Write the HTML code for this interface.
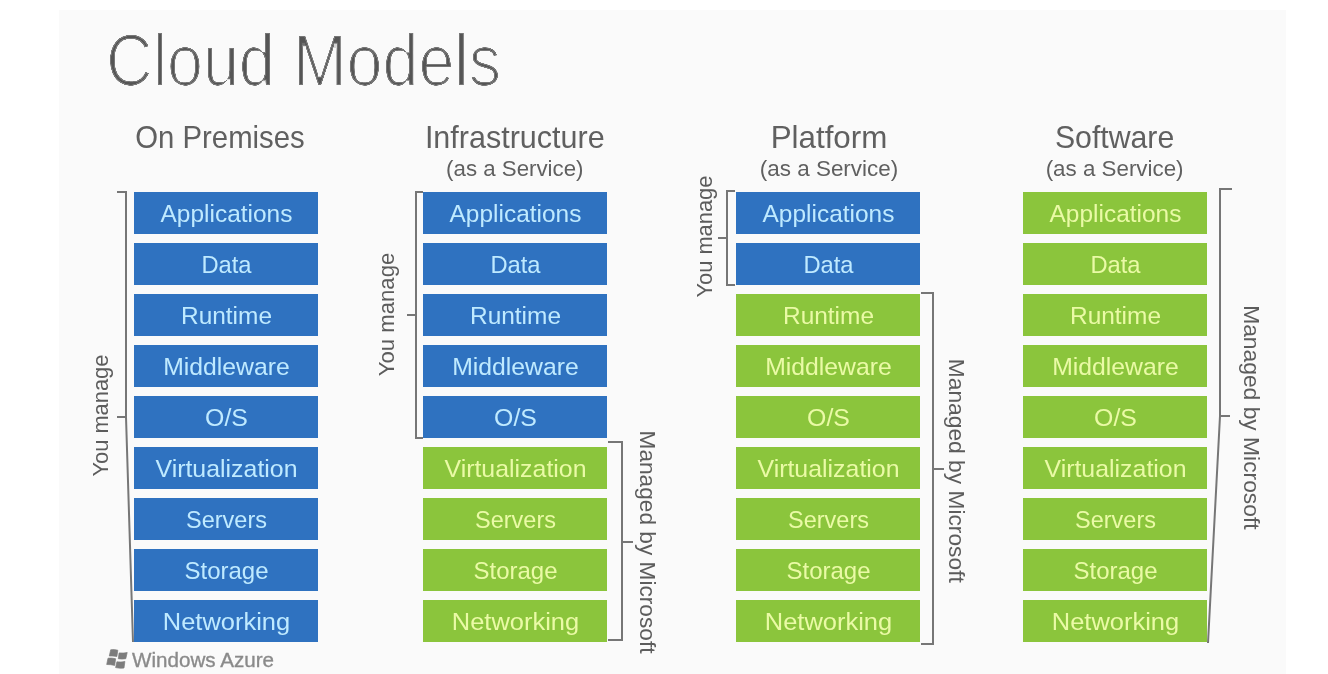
<!DOCTYPE html>
<html><head><meta charset="utf-8"><style>
html,body{margin:0;padding:0;background:#fff;width:1328px;height:674px;overflow:hidden}
svg{display:block;filter:blur(0.35px)}
text{font-family:"Liberation Sans",sans-serif}
</style></head><body>
<svg width="1328" height="674" viewBox="0 0 1328 674">
<defs><filter id="thin" x="-5%" y="-20%" width="110%" height="140%"><feComponentTransfer in="SourceAlpha" result="a"><feFuncA type="linear" slope="3" intercept="0"/></feComponentTransfer><feMorphology in="a" operator="erode" radius="1" result="e1"/><feMorphology in="a" operator="erode" radius="2" result="e2"/><feComposite in="e1" in2="e2" operator="arithmetic" k1="0" k2="0.8" k3="0.2" k4="0" result="e"/><feFlood flood-color="#555555"/><feComposite in2="e" operator="in"/></filter></defs>
<rect x="59" y="10" width="1227" height="664" fill="#fafafa"/>

<text x="106" y="85.5" font-size="75" fill="#555" textLength="395" lengthAdjust="spacingAndGlyphs" filter="url(#thin)">Cloud Models</text>
<text x="220" y="147.6" font-size="31.5" fill="#606060" text-anchor="middle" textLength="169.4" lengthAdjust="spacingAndGlyphs">On Premises</text>
<text x="514.8" y="147.6" font-size="31.5" fill="#606060" text-anchor="middle" textLength="179.8" lengthAdjust="spacingAndGlyphs">Infrastructure</text>
<text x="514.8" y="176.2" font-size="21.5" fill="#606060" text-anchor="middle" textLength="137.4" lengthAdjust="spacingAndGlyphs">(as a Service)</text>
<text x="829" y="147.6" font-size="31.5" fill="#606060" text-anchor="middle" textLength="116.7" lengthAdjust="spacingAndGlyphs">Platform</text>
<text x="829" y="176.2" font-size="21.5" fill="#606060" text-anchor="middle" textLength="138.5" lengthAdjust="spacingAndGlyphs">(as a Service)</text>
<text x="1114.6" y="147.6" font-size="31.5" fill="#606060" text-anchor="middle" textLength="119.3" lengthAdjust="spacingAndGlyphs">Software</text>
<text x="1114.6" y="176.2" font-size="21.5" fill="#606060" text-anchor="middle" textLength="137.9" lengthAdjust="spacingAndGlyphs">(as a Service)</text>
<rect x="134" y="192" width="184" height="42" fill="#2f72c0"/>
<text x="226.5" y="221.8" font-size="24.6" fill="#bfeaff" text-anchor="middle" textLength="131.9" lengthAdjust="spacingAndGlyphs">Applications</text>
<rect x="134" y="243" width="184" height="42" fill="#2f72c0"/>
<text x="226.5" y="272.8" font-size="24.6" fill="#bfeaff" text-anchor="middle" textLength="50.2" lengthAdjust="spacingAndGlyphs">Data</text>
<rect x="134" y="294" width="184" height="42" fill="#2f72c0"/>
<text x="226.5" y="323.8" font-size="24.6" fill="#bfeaff" text-anchor="middle" textLength="91" lengthAdjust="spacingAndGlyphs">Runtime</text>
<rect x="134" y="345" width="184" height="42" fill="#2f72c0"/>
<text x="226.5" y="374.8" font-size="24.6" fill="#bfeaff" text-anchor="middle" textLength="126.6" lengthAdjust="spacingAndGlyphs">Middleware</text>
<rect x="134" y="396" width="184" height="42" fill="#2f72c0"/>
<text x="226.5" y="425.8" font-size="24.6" fill="#bfeaff" text-anchor="middle" textLength="42.8" lengthAdjust="spacingAndGlyphs">O/S</text>
<rect x="134" y="447" width="184" height="42" fill="#2f72c0"/>
<text x="226.5" y="476.8" font-size="24.6" fill="#bfeaff" text-anchor="middle" textLength="142" lengthAdjust="spacingAndGlyphs">Virtualization</text>
<rect x="134" y="498" width="184" height="42" fill="#2f72c0"/>
<text x="226.5" y="527.8" font-size="24.6" fill="#bfeaff" text-anchor="middle" textLength="80.9" lengthAdjust="spacingAndGlyphs">Servers</text>
<rect x="134" y="549" width="184" height="42" fill="#2f72c0"/>
<text x="226.5" y="578.8" font-size="24.6" fill="#bfeaff" text-anchor="middle" textLength="84" lengthAdjust="spacingAndGlyphs">Storage</text>
<rect x="134" y="600" width="184" height="42" fill="#2f72c0"/>
<text x="226.5" y="629.8" font-size="24.6" fill="#bfeaff" text-anchor="middle" textLength="127.3" lengthAdjust="spacingAndGlyphs">Networking</text>
<rect x="423" y="192" width="184" height="42" fill="#2f72c0"/>
<text x="515.5" y="221.8" font-size="24.6" fill="#bfeaff" text-anchor="middle" textLength="131.9" lengthAdjust="spacingAndGlyphs">Applications</text>
<rect x="423" y="243" width="184" height="42" fill="#2f72c0"/>
<text x="515.5" y="272.8" font-size="24.6" fill="#bfeaff" text-anchor="middle" textLength="50.2" lengthAdjust="spacingAndGlyphs">Data</text>
<rect x="423" y="294" width="184" height="42" fill="#2f72c0"/>
<text x="515.5" y="323.8" font-size="24.6" fill="#bfeaff" text-anchor="middle" textLength="91" lengthAdjust="spacingAndGlyphs">Runtime</text>
<rect x="423" y="345" width="184" height="42" fill="#2f72c0"/>
<text x="515.5" y="374.8" font-size="24.6" fill="#bfeaff" text-anchor="middle" textLength="126.6" lengthAdjust="spacingAndGlyphs">Middleware</text>
<rect x="423" y="396" width="184" height="42" fill="#2f72c0"/>
<text x="515.5" y="425.8" font-size="24.6" fill="#bfeaff" text-anchor="middle" textLength="42.8" lengthAdjust="spacingAndGlyphs">O/S</text>
<rect x="423" y="447" width="184" height="42" fill="#8bc53c"/>
<text x="515.5" y="476.8" font-size="24.6" fill="#eafaa6" text-anchor="middle" textLength="142" lengthAdjust="spacingAndGlyphs">Virtualization</text>
<rect x="423" y="498" width="184" height="42" fill="#8bc53c"/>
<text x="515.5" y="527.8" font-size="24.6" fill="#eafaa6" text-anchor="middle" textLength="80.9" lengthAdjust="spacingAndGlyphs">Servers</text>
<rect x="423" y="549" width="184" height="42" fill="#8bc53c"/>
<text x="515.5" y="578.8" font-size="24.6" fill="#eafaa6" text-anchor="middle" textLength="84" lengthAdjust="spacingAndGlyphs">Storage</text>
<rect x="423" y="600" width="184" height="42" fill="#8bc53c"/>
<text x="515.5" y="629.8" font-size="24.6" fill="#eafaa6" text-anchor="middle" textLength="127.3" lengthAdjust="spacingAndGlyphs">Networking</text>
<rect x="736" y="192" width="184" height="42" fill="#2f72c0"/>
<text x="828.5" y="221.8" font-size="24.6" fill="#bfeaff" text-anchor="middle" textLength="131.9" lengthAdjust="spacingAndGlyphs">Applications</text>
<rect x="736" y="243" width="184" height="42" fill="#2f72c0"/>
<text x="828.5" y="272.8" font-size="24.6" fill="#bfeaff" text-anchor="middle" textLength="50.2" lengthAdjust="spacingAndGlyphs">Data</text>
<rect x="736" y="294" width="184" height="42" fill="#8bc53c"/>
<text x="828.5" y="323.8" font-size="24.6" fill="#eafaa6" text-anchor="middle" textLength="91" lengthAdjust="spacingAndGlyphs">Runtime</text>
<rect x="736" y="345" width="184" height="42" fill="#8bc53c"/>
<text x="828.5" y="374.8" font-size="24.6" fill="#eafaa6" text-anchor="middle" textLength="126.6" lengthAdjust="spacingAndGlyphs">Middleware</text>
<rect x="736" y="396" width="184" height="42" fill="#8bc53c"/>
<text x="828.5" y="425.8" font-size="24.6" fill="#eafaa6" text-anchor="middle" textLength="42.8" lengthAdjust="spacingAndGlyphs">O/S</text>
<rect x="736" y="447" width="184" height="42" fill="#8bc53c"/>
<text x="828.5" y="476.8" font-size="24.6" fill="#eafaa6" text-anchor="middle" textLength="142" lengthAdjust="spacingAndGlyphs">Virtualization</text>
<rect x="736" y="498" width="184" height="42" fill="#8bc53c"/>
<text x="828.5" y="527.8" font-size="24.6" fill="#eafaa6" text-anchor="middle" textLength="80.9" lengthAdjust="spacingAndGlyphs">Servers</text>
<rect x="736" y="549" width="184" height="42" fill="#8bc53c"/>
<text x="828.5" y="578.8" font-size="24.6" fill="#eafaa6" text-anchor="middle" textLength="84" lengthAdjust="spacingAndGlyphs">Storage</text>
<rect x="736" y="600" width="184" height="42" fill="#8bc53c"/>
<text x="828.5" y="629.8" font-size="24.6" fill="#eafaa6" text-anchor="middle" textLength="127.3" lengthAdjust="spacingAndGlyphs">Networking</text>
<rect x="1023" y="192" width="184" height="42" fill="#8bc53c"/>
<text x="1115.5" y="221.8" font-size="24.6" fill="#eafaa6" text-anchor="middle" textLength="131.9" lengthAdjust="spacingAndGlyphs">Applications</text>
<rect x="1023" y="243" width="184" height="42" fill="#8bc53c"/>
<text x="1115.5" y="272.8" font-size="24.6" fill="#eafaa6" text-anchor="middle" textLength="50.2" lengthAdjust="spacingAndGlyphs">Data</text>
<rect x="1023" y="294" width="184" height="42" fill="#8bc53c"/>
<text x="1115.5" y="323.8" font-size="24.6" fill="#eafaa6" text-anchor="middle" textLength="91" lengthAdjust="spacingAndGlyphs">Runtime</text>
<rect x="1023" y="345" width="184" height="42" fill="#8bc53c"/>
<text x="1115.5" y="374.8" font-size="24.6" fill="#eafaa6" text-anchor="middle" textLength="126.6" lengthAdjust="spacingAndGlyphs">Middleware</text>
<rect x="1023" y="396" width="184" height="42" fill="#8bc53c"/>
<text x="1115.5" y="425.8" font-size="24.6" fill="#eafaa6" text-anchor="middle" textLength="42.8" lengthAdjust="spacingAndGlyphs">O/S</text>
<rect x="1023" y="447" width="184" height="42" fill="#8bc53c"/>
<text x="1115.5" y="476.8" font-size="24.6" fill="#eafaa6" text-anchor="middle" textLength="142" lengthAdjust="spacingAndGlyphs">Virtualization</text>
<rect x="1023" y="498" width="184" height="42" fill="#8bc53c"/>
<text x="1115.5" y="527.8" font-size="24.6" fill="#eafaa6" text-anchor="middle" textLength="80.9" lengthAdjust="spacingAndGlyphs">Servers</text>
<rect x="1023" y="549" width="184" height="42" fill="#8bc53c"/>
<text x="1115.5" y="578.8" font-size="24.6" fill="#eafaa6" text-anchor="middle" textLength="84" lengthAdjust="spacingAndGlyphs">Storage</text>
<rect x="1023" y="600" width="184" height="42" fill="#8bc53c"/>
<text x="1115.5" y="629.8" font-size="24.6" fill="#eafaa6" text-anchor="middle" textLength="127.3" lengthAdjust="spacingAndGlyphs">Networking</text>
<polyline fill="none" stroke="#767676" stroke-width="2" points="117,192 126,192 126,417 133,642"/>
<polyline fill="none" stroke="#767676" stroke-width="2" points="117,417 126,417"/>
<polyline fill="none" stroke="#767676" stroke-width="2" points="423,192 416,192 416,438 423,438"/>
<polyline fill="none" stroke="#767676" stroke-width="2" points="407,315 416,315"/>
<polyline fill="none" stroke="#767676" stroke-width="2" points="608,442 622,442 622,640 608,640"/>
<polyline fill="none" stroke="#767676" stroke-width="2" points="622,542 633,542"/>
<polyline fill="none" stroke="#767676" stroke-width="2" points="735,191 727,191 727,285 735,285"/>
<polyline fill="none" stroke="#767676" stroke-width="2" points="718,238 727,238"/>
<polyline fill="none" stroke="#767676" stroke-width="2" points="921,293 933,293 933,644 921,644"/>
<polyline fill="none" stroke="#767676" stroke-width="2" points="933,469 944,469"/>
<polyline fill="none" stroke="#767676" stroke-width="2" points="1232,189 1220,189 1220,416 1208,643"/>
<polyline fill="none" stroke="#767676" stroke-width="2" points="1220,416 1230,416"/>
<text transform="translate(108,415.6) rotate(-90)" font-size="21.8" fill="#5c5c5c" text-anchor="middle" textLength="122" lengthAdjust="spacingAndGlyphs">You manage</text>
<text transform="translate(394.4,314.5) rotate(-90)" font-size="21.8" fill="#5c5c5c" text-anchor="middle" textLength="123.5" lengthAdjust="spacingAndGlyphs">You manage</text>
<text transform="translate(712,236.6) rotate(-90)" font-size="21.8" fill="#5c5c5c" text-anchor="middle" textLength="122" lengthAdjust="spacingAndGlyphs">You manage</text>
<text transform="translate(639.6,542) rotate(90)" font-size="21.8" fill="#5c5c5c" text-anchor="middle" textLength="223" lengthAdjust="spacingAndGlyphs">Managed by Microsoft</text>
<text transform="translate(948.5,470.8) rotate(90)" font-size="21.8" fill="#5c5c5c" text-anchor="middle" textLength="224" lengthAdjust="spacingAndGlyphs">Managed by Microsoft</text>
<text transform="translate(1243.6,417.4) rotate(90)" font-size="21.8" fill="#5c5c5c" text-anchor="middle" textLength="224.5" lengthAdjust="spacingAndGlyphs">Managed by Microsoft</text>
<text x="132" y="667" font-size="21" fill="#8a8a8a" stroke="#8a8a8a" stroke-width="0.35" textLength="142" lengthAdjust="spacingAndGlyphs">Windows Azure</text>
<g fill="#7c7c7c" stroke="#7c7c7c" stroke-width="0.7" stroke-linejoin="round"><path d="M110.7,649.8 Q114,649.2 117.8,650.2 L116.9,656.5 Q113,655.6 109.3,656 Z"/><path d="M119.1,652.9 Q123,653.4 127.2,652.5 L125.8,658.7 Q122,659.4 118.3,658.7 Z"/><path d="M108,658.2 Q112,657.8 115.6,658.7 L114.7,665.4 Q110.5,664.4 106.7,664.5 Z"/><path d="M116.9,661.8 Q121,662.4 124.9,661.4 L124,668 Q120,668.6 115.6,667.6 Z"/></g>
</svg></body></html>
